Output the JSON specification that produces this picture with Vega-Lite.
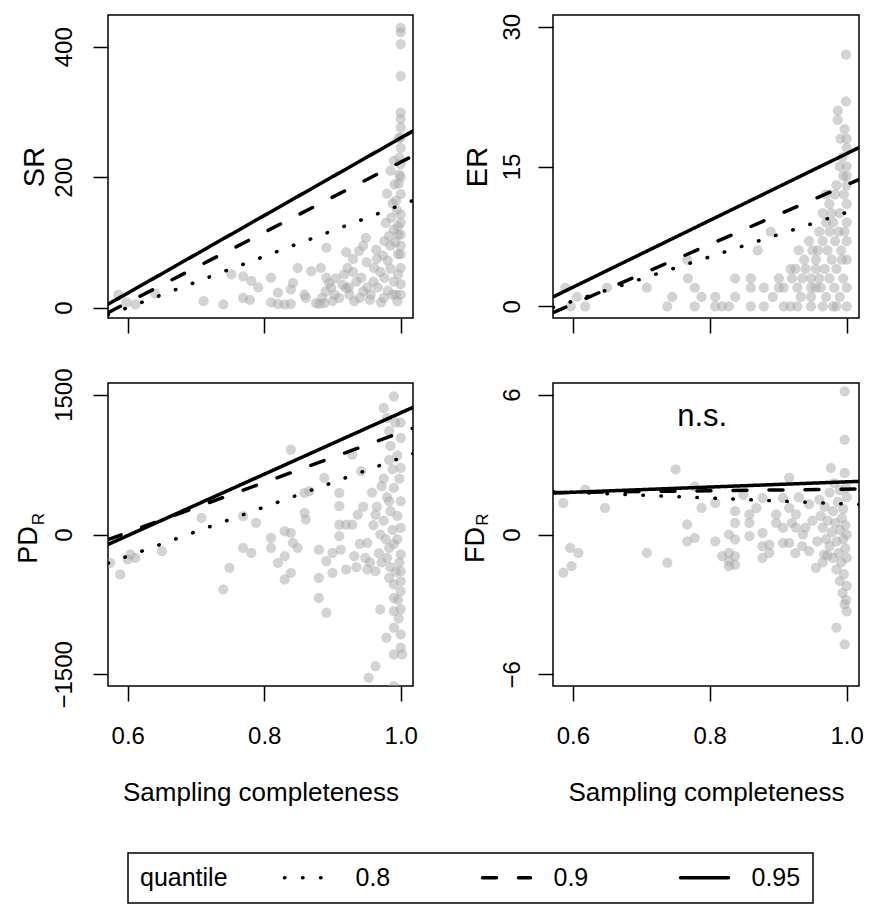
{
"$schema": "https://vega.github.io/schema/vega-lite/v6.json",
"background": "white",
"padding": {"left": 13, "top": 12, "right": 0, "bottom": 0},
"config": {
  "font": "Liberation Sans",
  "view": {"stroke": "black", "strokeWidth": 1.5},
  "axis": {"domain": false, "grid": false, "tickColor": "black", "tickSize": 15, "tickWidth": 1.5,
    "labelFont": "Liberation Sans", "labelFontSize": 24, "labelColor": "black", "labelFlush": false, "labelOverlap": false,
    "titleFont": "Liberation Sans", "titleFontWeight": "normal", "titleColor": "black", "titleFontSize": 26}
},
"datasets": {
  "sr": [
    {"c":0.586,"v":20},{"c":0.598,"v":8},{"c":0.611,"v":5},{"c":0.64,"v":22},
    {"c":0.711,"v":10},{"c":0.740,"v":5},{"c":0.752,"v":51},{"c":0.769,"v":48},{"c":0.781,"v":41},{"c":0.791,"v":31},{"c":0.769,"v":15},{"c":0.779,"v":12},
    {"c":0.810,"v":46},{"c":0.810,"v":8},{"c":0.820,"v":6},{"c":0.830,"v":5},{"c":0.839,"v":6},{"c":0.820,"v":23},{"c":0.839,"v":28},{"c":0.842,"v":38},{"c":0.849,"v":61},{"c":0.859,"v":20},{"c":0.861,"v":15},{"c":0.869,"v":56},{"c":0.876,"v":7},{"c":0.881,"v":6},{"c":0.888,"v":7},{"c":0.883,"v":61},{"c":0.891,"v":92},{"c":0.891,"v":46},{"c":0.898,"v":31},{"c":0.903,"v":20},{"c":0.910,"v":15},{"c":0.917,"v":51},{"c":0.922,"v":61},{"c":0.924,"v":31},{"c":0.932,"v":10},{"c":0.939,"v":87},{"c":0.942,"v":46},{"c":0.949,"v":107},{"c":0.951,"v":31},{"c":0.956,"v":20},{"c":0.961,"v":61},{"c":0.964,"v":89},{"c":0.966,"v":31},{"c":0.971,"v":8},{"c":0.976,"v":102},{"c":0.976,"v":46},{"c":0.981,"v":72},{"c":0.981,"v":26},{"c":0.986,"v":138},{"c":0.988,"v":20},{"c":0.991,"v":189},{"c":0.993,"v":164},{"c":0.993,"v":20},{"c":0.996,"v":112},{"c":0.996,"v":82},{"c":0.996,"v":51},{"c":0.998,"v":230},{"c":0.998,"v":204},
    {"c":1.0,"v":429},{"c":1.0,"v":422},{"c":1.0,"v":404},{"c":1.0,"v":355},{"c":1.0,"v":299},{"c":1.0,"v":289},{"c":1.0,"v":276},{"c":1.0,"v":261},{"c":1.0,"v":245},{"c":1.0,"v":174},{"c":1.0,"v":143},{"c":1.0,"v":112},{"c":1.0,"v":82},{"c":1.0,"v":61},{"c":1.0,"v":36},
    {"c":0.985,"v":60},{"c":0.985,"v":95},{"c":0.99,"v":120},{"c":0.99,"v":40},{"c":0.994,"v":150},{"c":0.995,"v":10},{"c":0.975,"v":15},{"c":0.97,"v":55},{"c":0.965,"v":75},{"c":0.96,"v":40},{"c":0.955,"v":12},{"c":0.95,"v":70},{"c":0.945,"v":25},{"c":0.94,"v":15},{"c":0.935,"v":40},{"c":0.93,"v":55},{"c":0.925,"v":20},{"c":0.92,"v":30},{"c":0.915,"v":35},{"c":0.905,"v":45},{"c":0.9,"v":10},{"c":0.895,"v":38},{"c":0.89,"v":25},{"c":0.885,"v":15},{"c":0.98,"v":175},{"c":0.985,"v":210},{"c":0.99,"v":225},{"c":0.997,"v":190},{"c":0.997,"v":260},{"c":1.0,"v":200},{"c":1.0,"v":220},{"c":1.0,"v":130},{"c":1.0,"v":95},{"c":1.0,"v":20},{"c":0.992,"v":100},{"c":0.983,"v":110},{"c":0.978,"v":130},{"c":0.974,"v":80},{"c":0.988,"v":160},{"c":0.996,"v":125},{"c":0.945,"v":95},{"c":0.93,"v":75},{"c":0.92,"v":85}
  ],
  "srq": [
    {"q":"0.8","c":0.571,"v":-11.3},{"q":"0.8","c":1.018,"v":164.3},
    {"q":"0.9","c":0.571,"v":-7.7},{"q":"0.9","c":1.018,"v":232.8},
    {"q":"0.95","c":0.571,"v":5.2},{"q":"0.95","c":1.018,"v":270.8}
  ],
  "er": [
    {"c":0.589,"v":2},{"c":0.597,"v":0},{"c":0.606,"v":1},{"c":0.618,"v":0},{"c":0.650,"v":2},{"c":0.708,"v":2},{"c":0.738,"v":0},{"c":0.745,"v":1},{"c":0.767,"v":5},{"c":0.768,"v":3},{"c":0.778,"v":2},{"c":0.778,"v":0},{"c":0.788,"v":1},{"c":0.808,"v":1},{"c":0.808,"v":0},{"c":0.818,"v":0},{"c":0.828,"v":0},{"c":0.837,"v":1},{"c":0.837,"v":3},{"c":0.860,"v":3},{"c":0.860,"v":2},{"c":0.860,"v":0},{"c":0.870,"v":6},{"c":0.879,"v":2},{"c":0.879,"v":0},{"c":0.889,"v":8},{"c":0.892,"v":1},{"c":0.901,"v":2},{"c":0.901,"v":3},{"c":0.908,"v":0},{"c":0.918,"v":0},{"c":0.928,"v":0},{"c":0.908,"v":2},{"c":0.918,"v":4},{"c":0.920,"v":3},{"c":0.928,"v":2},{"c":0.933,"v":1},{"c":0.938,"v":5},{"c":0.945,"v":7},{"c":0.948,"v":3},{"c":0.948,"v":2},{"c":0.948,"v":1},{"c":0.948,"v":0},{"c":0.955,"v":4},{"c":0.955,"v":5},{"c":0.958,"v":6},{"c":0.96,"v":3},{"c":0.962,"v":2},{"c":0.965,"v":0},{"c":0.965,"v":7},{"c":0.968,"v":4},{"c":0.97,"v":1},{"c":0.972,"v":6},{"c":0.9745,"v":11},{"c":0.975,"v":3},{"c":0.978,"v":5},{"c":0.98,"v":9},{"c":0.98,"v":0},{"c":0.982,"v":2},{"c":0.983,"v":7},{"c":0.985,"v":13},{"c":0.985,"v":4},{"c":0.987,"v":20},{"c":0.987,"v":21},{"c":0.988,"v":8},{"c":0.99,"v":1},{"c":0.99,"v":10},{"c":0.991,"v":18},{"c":0.992,"v":6},{"c":0.994,"v":16},{"c":0.995,"v":3},{"c":0.996,"v":12},{"c":0.997,"v":19},{"c":0.999,"v":22},{"c":0.999,"v":27},{"c":1.0,"v":18},{"c":1.0,"v":17},{"c":1.0,"v":15},{"c":1.0,"v":14},{"c":1.0,"v":13},{"c":1.0,"v":11},{"c":1.0,"v":9},{"c":1.0,"v":7},{"c":1.0,"v":5},{"c":1.0,"v":2},{"c":1.0,"v":0},{"c":0.975,"v":8},{"c":0.97,"v":9},{"c":0.965,"v":10},{"c":0.96,"v":8},{"c":0.955,"v":2},{"c":0.95,"v":6},{"c":0.94,"v":4},{"c":0.935,"v":3},{"c":0.93,"v":6},{"c":0.925,"v":4},{"c":0.985,"v":0},{"c":0.993,"v":5},{"c":0.997,"v":8},{"c":0.995,"v":14},{"c":0.99,"v":15},{"c":0.983,"v":12},{"c":0.978,"v":10},{"c":0.97,"v":12}
  ],
  "erq": [
    {"q":"0.8","c":0.571,"v":-0.14},{"q":"0.8","c":1.018,"v":10.5},
    {"q":"0.9","c":0.571,"v":-0.69},{"q":"0.9","c":1.018,"v":13.6},
    {"q":"0.95","c":0.571,"v":1.0},{"q":"0.95","c":1.018,"v":17.03}
  ],
  "pd": [
    {"c":0.574,"v":-304},{"c":0.589,"v":-429},{"c":0.600,"v":-268},{"c":0.604,"v":-214},{"c":0.611,"v":-250},{"c":0.650,"v":-179},{"c":0.708,"v":179},{"c":0.740,"v":-589},{"c":0.749,"v":-357},{"c":0.769,"v":196},{"c":0.769,"v":-143},{"c":0.781,"v":-196},{"c":0.788,"v":125},{"c":0.810,"v":-36},{"c":0.810,"v":-143},{"c":0.820,"v":-304},{"c":0.830,"v":36},{"c":0.830,"v":-232},{"c":0.830,"v":-482},{"c":0.839,"v":911},{"c":0.839,"v":18},{"c":0.839,"v":-411},{"c":0.842,"v":-89},{"c":0.849,"v":-143},{"c":0.859,"v":446},{"c":0.859,"v":232},{"c":0.861,"v":161},{"c":0.866,"v":464},{"c":0.880,"v":-161},{"c":0.880,"v":-464},{"c":0.880,"v":-679},{"c":0.888,"v":607},{"c":0.891,"v":-839},{"c":0.891,"v":-286},{"c":0.900,"v":-196},{"c":0.900,"v":-411},{"c":0.910,"v":446},{"c":0.910,"v":304},{"c":0.910,"v":107},{"c":0.920,"v":107},{"c":0.929,"v":107},{"c":0.910,"v":-18},{"c":0.912,"v":-161},{"c":0.920,"v":-375},{"c":0.929,"v":857},{"c":0.932,"v":-232},{"c":0.937,"v":214},{"c":0.942,"v":679},{"c":0.951,"v":-89},{"c":0.951,"v":-375},{"c":0.953,"v":-1536},{"c":0.963,"v":-1411},{"c":0.963,"v":-393},{"c":0.963,"v":214},{"c":0.970,"v":-804},{"c":0.972,"v":518},{"c":0.975,"v":1357},{"c":0.979,"v":-1107},{"c":0.980,"v":1250},{"c":0.983,"v":1110},{"c":0.983,"v":800},{"c":0.983,"v":357},{"c":0.983,"v":-143},{"c":0.983,"v":-464},{"c":0.990,"v":1482},{"c":0.990,"v":-1625},{"c":0.990,"v":-1286},{"c":0.990,"v":-1000},{"c":0.990,"v":-821},{"c":0.990,"v":-679},{"c":0.990,"v":-536},{"c":1.0,"v":1036},{"c":1.0,"v":714},{"c":1.0,"v":357},{"c":1.0,"v":71},{"c":1.0,"v":-214},{"c":1.0,"v":-393},{"c":1.0,"v":-607},{"c":1.0,"v":-1071},{"c":1.0,"v":-1214},{"c":1.002,"v":-1286},
    {"c":0.96,"v":100},{"c":0.965,"v":300},{"c":0.968,"v":-200},{"c":0.97,"v":0},{"c":0.972,"v":-300},{"c":0.975,"v":600},{"c":0.975,"v":150},{"c":0.978,"v":-50},{"c":0.98,"v":400},{"c":0.98,"v":-250},{"c":0.985,"v":950},{"c":0.985,"v":250},{"c":0.985,"v":-350},{"c":0.988,"v":700},{"c":0.988,"v":50},{"c":0.99,"v":500},{"c":0.99,"v":-100},{"c":0.992,"v":1200},{"c":0.993,"v":-400},{"c":0.995,"v":850},{"c":0.995,"v":200},{"c":0.995,"v":-50},{"c":0.996,"v":-700},{"c":0.997,"v":-900},{"c":0.998,"v":600},{"c":0.998,"v":-300},{"c":1.0,"v":1200},{"c":1.0,"v":-500},{"c":1.0,"v":-800},{"c":0.955,"v":-300},{"c":0.958,"v":450},{"c":0.948,"v":-250},{"c":0.945,"v":300},{"c":0.94,"v":-100},{"c":0.935,"v":-350}
  ],
  "pdq": [
    {"q":"0.8","c":0.571,"v":-309},{"q":"0.8","c":1.018,"v":868},
    {"q":"0.9","c":0.571,"v":-55},{"q":"0.9","c":1.018,"v":1142},
    {"q":"0.95","c":0.571,"v":-107},{"q":"0.95","c":1.018,"v":1364}
  ],
  "fd": [
    {"c":0.586,"v":1.36},{"c":0.586,"v":-1.64},{"c":0.598,"v":-1.36},{"c":0.596,"v":-0.57},{"c":0.608,"v":-0.79},{"c":0.618,"v":1.93},{"c":0.647,"v":1.14},{"c":0.708,"v":-0.79},{"c":0.738,"v":-1.21},{"c":0.750,"v":2.79},{"c":0.767,"v":0.43},{"c":0.767,"v":-0.29},{"c":0.778,"v":-0.14},{"c":0.778,"v":2.07},{"c":0.788,"v":1.14},{"c":0.808,"v":1.36},{"c":0.808,"v":-0.29},{"c":0.818,"v":-0.93},{"c":0.828,"v":-0.79},{"c":0.828,"v":-1.14},{"c":0.837,"v":-0.93},{"c":0.837,"v":-1.29},{"c":0.828,"v":-1.36},{"c":0.828,"v":0.0},{"c":0.837,"v":-0.21},{"c":0.837,"v":1.0},{"c":0.837,"v":0.5},{"c":0.849,"v":1.7},{"c":0.858,"v":0.86},{"c":0.858,"v":0.5},{"c":0.858,"v":-0.07},{"c":0.868,"v":1.14},{"c":0.877,"v":1.57},{"c":0.877,"v":0.07},{"c":0.877,"v":-0.5},{"c":0.887,"v":-0.43},{"c":0.877,"v":-1.0},{"c":0.887,"v":-0.79},{"c":0.897,"v":0.86},{"c":0.897,"v":0.5},{"c":0.907,"v":1.57},{"c":0.907,"v":0.29},{"c":0.907,"v":-0.36},{"c":0.916,"v":-0.36},{"c":0.916,"v":2.43},{"c":0.916,"v":1.14},{"c":0.926,"v":0.86},{"c":0.926,"v":0.29},{"c":0.936,"v":0.0},{"c":0.945,"v":-0.71},{"c":0.955,"v":-1.43},{"c":0.957,"v":-0.29},{"c":0.967,"v":-0.86},{"c":0.977,"v":2.86},{"c":0.985,"v":-4.0},{"c":0.997,"v":6.14},{"c":0.997,"v":4.07},{"c":0.997,"v":2.64},{"c":0.997,"v":-4.71},
    {"c":0.96,"v":1.5},{"c":0.962,"v":0.8},{"c":0.965,"v":0.3},{"c":0.968,"v":1.2},{"c":0.97,"v":-0.2},{"c":0.972,"v":0.6},{"c":0.975,"v":1.8},{"c":0.975,"v":-0.5},{"c":0.978,"v":0.1},{"c":0.98,"v":1.0},{"c":0.98,"v":-1.0},{"c":0.982,"v":2.2},{"c":0.983,"v":0.5},{"c":0.985,"v":-0.3},{"c":0.985,"v":-1.5},{"c":0.987,"v":1.4},{"c":0.988,"v":-0.8},{"c":0.99,"v":0.2},{"c":0.99,"v":-2.0},{"c":0.99,"v":1.9},{"c":0.992,"v":-1.2},{"c":0.993,"v":0.7},{"c":0.994,"v":-2.5},{"c":0.995,"v":-0.2},{"c":0.995,"v":1.1},{"c":0.996,"v":-1.7},{"c":0.997,"v":-3.0},{"c":0.998,"v":-0.6},{"c":0.998,"v":0.4},{"c":1.0,"v":1.6},{"c":1.0,"v":-1.0},{"c":1.0,"v":-2.2},{"c":1.0,"v":-3.3},{"c":1.0,"v":0.0},{"c":0.999,"v":-2.8},{"c":0.999,"v":2.0},{"c":0.95,"v":0.6},{"c":0.945,"v":1.3},{"c":0.94,"v":0.3},{"c":0.935,"v":-0.5},{"c":0.93,"v":1.6},{"c":0.925,"v":-0.8},{"c":0.92,"v":0.5},{"c":0.965,"v":-1.2},{"c":0.972,"v":-0.9}
  ],
  "fdq": [
    {"q":"0.8","c":0.571,"v":1.85},{"q":"0.8","c":1.018,"v":1.29},
    {"q":"0.9","c":0.571,"v":1.80},{"q":"0.9","c":1.018,"v":1.95},
    {"q":"0.95","c":0.571,"v":1.78},{"q":"0.95","c":1.018,"v":2.28}
  ]
},
"bounds": "flush",
"columns": 2,
"spacing": {"row": 65, "column": 140},
"concat": [
  {
    "width": 305, "height": 303,
    "layer": [
      {"data": {"name": "sr"}, "mark": {"type": "circle", "size": 105, "color": "#a8a8a8", "opacity": 0.5, "clip": true},
       "encoding": {
         "x": {"field": "c", "type": "quantitative", "scale": {"domain": [0.571, 1.018], "nice": false, "zero": false}, "axis": {"values": [0.6, 0.8, 1.0], "labels": false, "title": null}},
         "y": {"field": "v", "type": "quantitative", "scale": {"domain": [-15.8, 448.6], "nice": false, "zero": false}, "axis": {"values": [0, 200, 400], "format": "d", "title": "SR", "labelAngle": 270, "labelAlign": "center", "labelBaseline": "alphabetic", "labelPadding": 22, "titleAngle": 270, "titleAlign": "center", "titleBaseline": "alphabetic", "titleX": -65, "titleY": 151.5, "titleFontSize": 29}}
       }},
      {"data": {"name": "srq"}, "mark": {"type": "line", "color": "black", "strokeWidth": 3.5, "strokeCap": "round", "clip": true},
       "encoding": {
         "x": {"field": "c", "type": "quantitative"},
         "y": {"field": "v", "type": "quantitative"},
         "strokeDash": {"field": "q", "type": "nominal", "scale": {"domain": ["0.8", "0.9", "0.95"], "range": [[0.5, 17.5], [14, 22], [1, 0]]},
           "legend": {"title": "quantile", "orient": "none", "legendX": 20, "legendY": 838, "direction": "horizontal", "titleOrient": "left", "titleAnchor": "middle", "titleBaseline": "middle", "titleFontSize": 25, "titleFontWeight": "normal", "titleColor": "black", "titleFont": "Liberation Sans", "titlePadding": 54, "labelFont": "Liberation Sans", "labelFontSize": 25, "labelColor": "black", "labelOffset": 48.5, "labelBaseline": "middle", "symbolType": "M-1,0L3.8,0", "symbolSize": 400, "symbolStrokeWidth": 3.5, "symbolStrokeColor": "black", "symbolFillColor": "transparent", "columnPadding": 70, "gridAlign": "all", "padding": 12, "strokeColor": "black", "fillColor": "white", "encode": {"symbols": {"update": {"strokeCap": {"value": "round"}}}, "legend": {"update": {"strokeWidth": {"value": 1.5}}}}}}
       }}
    ]
  },
  {
    "width": 306, "height": 303,
    "layer": [
      {"data": {"name": "er"}, "mark": {"type": "circle", "size": 105, "color": "#a8a8a8", "opacity": 0.5, "clip": true},
       "encoding": {
         "x": {"field": "c", "type": "quantitative", "scale": {"domain": [0.571, 1.018], "nice": false, "zero": false}, "axis": {"values": [0.6, 0.8, 1.0], "labels": false, "title": null}},
         "y": {"field": "v", "type": "quantitative", "scale": {"domain": [-1.26, 31.26], "nice": false, "zero": false}, "axis": {"values": [0, 15, 30], "format": "d", "title": "ER", "labelAngle": 270, "labelAlign": "center", "labelBaseline": "alphabetic", "labelPadding": 19, "titleAngle": 270, "titleAlign": "center", "titleBaseline": "alphabetic", "titleX": -67, "titleY": 151.5, "titleFontSize": 29}}
       }},
      {"data": {"name": "erq"}, "mark": {"type": "line", "color": "black", "strokeWidth": 3.5, "strokeCap": "round", "clip": true},
       "encoding": {
         "x": {"field": "c", "type": "quantitative"},
         "y": {"field": "v", "type": "quantitative"},
         "strokeDash": {"field": "q", "type": "nominal", "scale": {"domain": ["0.8", "0.9", "0.95"], "range": [[0.5, 17.5], [14, 22], [1, 0]]},
           "legend": {"title": "quantile", "orient": "none", "legendX": 20, "legendY": 838, "direction": "horizontal", "titleOrient": "left", "titleAnchor": "middle", "titleBaseline": "middle", "titleFontSize": 25, "titleFontWeight": "normal", "titleColor": "black", "titleFont": "Liberation Sans", "titlePadding": 54, "labelFont": "Liberation Sans", "labelFontSize": 25, "labelColor": "black", "labelOffset": 48.5, "labelBaseline": "middle", "symbolType": "M-1,0L3.8,0", "symbolSize": 400, "symbolStrokeWidth": 3.5, "symbolStrokeColor": "black", "symbolFillColor": "transparent", "columnPadding": 70, "gridAlign": "all", "padding": 12, "strokeColor": "black", "fillColor": "white", "encode": {"symbols": {"update": {"strokeCap": {"value": "round"}}}, "legend": {"update": {"strokeWidth": {"value": 1.5}}}}}}
       }}
    ]
  },
  {
    "width": 305, "height": 303,
    "layer": [
      {"data": {"name": "pd"}, "mark": {"type": "circle", "size": 105, "color": "#a8a8a8", "opacity": 0.5, "clip": true},
       "encoding": {
         "x": {"field": "c", "type": "quantitative", "scale": {"domain": [0.571, 1.018], "nice": false, "zero": false}, "axis": {"values": [0.6, 0.8, 1.0], "format": ".1f", "labelBaseline": "alphabetic", "labelPadding": 42, "title": "Sampling completeness", "titleBaseline": "alphabetic", "titleY": 114}},
         "y": {"field": "v", "type": "quantitative", "scale": {"domain": [-1625, 1625], "nice": false, "zero": false}, "axis": {"values": [-1500, 0, 1500], "format": "d", "title": "PD", "labelAngle": 270, "labelAlign": "center", "labelBaseline": "alphabetic", "labelPadding": 22, "titleAngle": 270, "titleAlign": "center", "titleBaseline": "alphabetic", "titleX": -72, "titleY": 161.5, "titleFontSize": 27}}
       }},
      {"data": {"name": "pdq"}, "mark": {"type": "line", "color": "black", "strokeWidth": 3.5, "strokeCap": "round", "clip": true},
       "encoding": {
         "x": {"field": "c", "type": "quantitative"},
         "y": {"field": "v", "type": "quantitative"},
         "strokeDash": {"field": "q", "type": "nominal", "scale": {"domain": ["0.8", "0.9", "0.95"], "range": [[0.5, 17.5], [14, 22], [1, 0]]},
           "legend": {"title": "quantile", "orient": "none", "legendX": 20, "legendY": 838, "direction": "horizontal", "titleOrient": "left", "titleAnchor": "middle", "titleBaseline": "middle", "titleFontSize": 25, "titleFontWeight": "normal", "titleColor": "black", "titleFont": "Liberation Sans", "titlePadding": 54, "labelFont": "Liberation Sans", "labelFontSize": 25, "labelColor": "black", "labelOffset": 48.5, "labelBaseline": "middle", "symbolType": "M-1,0L3.8,0", "symbolSize": 400, "symbolStrokeWidth": 3.5, "symbolStrokeColor": "black", "symbolFillColor": "transparent", "columnPadding": 70, "gridAlign": "all", "padding": 12, "strokeColor": "black", "fillColor": "white", "encode": {"symbols": {"update": {"strokeCap": {"value": "round"}}}, "legend": {"update": {"strokeWidth": {"value": 1.5}}}}}}
       }},
      {"data": {"values": [{}]}, "mark": {"type": "text", "text": "R", "angle": 270, "align": "center", "baseline": "alphabetic", "fontSize": 17, "font": "Liberation Sans", "color": "black", "clip": false},
       "encoding": {"x": {"datum": 0.477, "type": "quantitative"}, "y": {"datum": 166, "type": "quantitative"}}}
    ]
  },
  {
    "width": 306, "height": 303,
    "layer": [
      {"data": {"name": "fd"}, "mark": {"type": "circle", "size": 105, "color": "#a8a8a8", "opacity": 0.5, "clip": true},
       "encoding": {
         "x": {"field": "c", "type": "quantitative", "scale": {"domain": [0.571, 1.018], "nice": false, "zero": false}, "axis": {"values": [0.6, 0.8, 1.0], "format": ".1f", "labelBaseline": "alphabetic", "labelPadding": 42, "title": "Sampling completeness", "titleBaseline": "alphabetic", "titleY": 114}},
         "y": {"field": "v", "type": "quantitative", "scale": {"domain": [-6.5, 6.5], "nice": false, "zero": false}, "axis": {"values": [-6, 0, 6], "format": "d", "title": "FD", "labelAngle": 270, "labelAlign": "center", "labelBaseline": "alphabetic", "labelPadding": 19, "titleAngle": 270, "titleAlign": "center", "titleBaseline": "alphabetic", "titleX": -70, "titleY": 161.5, "titleFontSize": 27}}
       }},
      {"data": {"name": "fdq"}, "mark": {"type": "line", "color": "black", "strokeWidth": 3.5, "strokeCap": "round", "clip": true},
       "encoding": {
         "x": {"field": "c", "type": "quantitative"},
         "y": {"field": "v", "type": "quantitative"},
         "strokeDash": {"field": "q", "type": "nominal", "scale": {"domain": ["0.8", "0.9", "0.95"], "range": [[0.5, 17.5], [14, 22], [1, 0]]},
           "legend": {"title": "quantile", "orient": "none", "legendX": 20, "legendY": 838, "direction": "horizontal", "titleOrient": "left", "titleAnchor": "middle", "titleBaseline": "middle", "titleFontSize": 25, "titleFontWeight": "normal", "titleColor": "black", "titleFont": "Liberation Sans", "titlePadding": 54, "labelFont": "Liberation Sans", "labelFontSize": 25, "labelColor": "black", "labelOffset": 48.5, "labelBaseline": "middle", "symbolType": "M-1,0L3.8,0", "symbolSize": 400, "symbolStrokeWidth": 3.5, "symbolStrokeColor": "black", "symbolFillColor": "transparent", "columnPadding": 70, "gridAlign": "all", "padding": 12, "strokeColor": "black", "fillColor": "white", "encode": {"symbols": {"update": {"strokeCap": {"value": "round"}}}, "legend": {"update": {"strokeWidth": {"value": 1.5}}}}}}
       }},
      {"data": {"values": [{}]}, "mark": {"type": "text", "text": "R", "angle": 270, "align": "center", "baseline": "alphabetic", "fontSize": 17, "font": "Liberation Sans", "color": "black", "clip": false},
       "encoding": {"x": {"datum": 0.476, "type": "quantitative"}, "y": {"datum": 0.64, "type": "quantitative"}}},
      {"data": {"values": [{}]}, "mark": {"type": "text", "text": "n.s.", "align": "center", "baseline": "alphabetic", "fontSize": 31, "font": "Liberation Sans", "color": "black"},
       "encoding": {"x": {"datum": 0.789, "type": "quantitative"}, "y": {"datum": 4.655, "type": "quantitative"}}}
    ]
  }
]
}
